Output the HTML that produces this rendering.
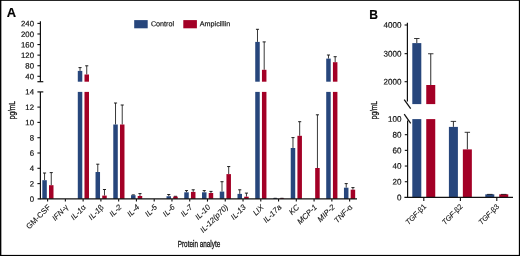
<!DOCTYPE html>
<html><head><meta charset="utf-8"><title>Figure</title>
<style>html,body{margin:0;padding:0;background:#fff;}svg{display:block;}text{stroke:#111;stroke-width:0.18px;}text.r{stroke-width:0.1px;}text.b{stroke-width:0.3px;}</style></head>
<body>
<svg width="520" height="256" viewBox="0 0 520 256" font-family="'Liberation Sans', Arial, sans-serif">
<rect x="0" y="0" width="520" height="256" fill="#fff"/>
<line x1="44.55" y1="173.00" x2="44.55" y2="180.20" stroke="#151515" stroke-width="0.85"/><line x1="43.00" y1="173.00" x2="46.10" y2="173.00" stroke="#151515" stroke-width="0.95"/><rect x="42.30" y="180.20" width="4.5" height="18.70" fill="#27467c"/>
<line x1="51.25" y1="172.60" x2="51.25" y2="185.20" stroke="#151515" stroke-width="0.85"/><line x1="49.70" y1="172.60" x2="52.80" y2="172.60" stroke="#151515" stroke-width="0.95"/><rect x="49.00" y="185.20" width="4.5" height="13.70" fill="#a30026"/>
<line x1="80.04" y1="67.60" x2="80.04" y2="70.90" stroke="#151515" stroke-width="0.85"/><line x1="78.49" y1="67.60" x2="81.59" y2="67.60" stroke="#151515" stroke-width="0.95"/><rect x="77.79" y="70.90" width="4.5" height="10.80" fill="#27467c"/><rect x="77.79" y="91.90" width="4.5" height="107.00" fill="#27467c"/>
<line x1="86.74" y1="65.80" x2="86.74" y2="74.50" stroke="#151515" stroke-width="0.85"/><line x1="85.19" y1="65.80" x2="88.29" y2="65.80" stroke="#151515" stroke-width="0.95"/><rect x="84.49" y="74.50" width="4.5" height="7.20" fill="#a30026"/><rect x="84.49" y="91.90" width="4.5" height="107.00" fill="#a30026"/>
<line x1="97.78" y1="164.20" x2="97.78" y2="172.00" stroke="#151515" stroke-width="0.85"/><line x1="96.23" y1="164.20" x2="99.33" y2="164.20" stroke="#151515" stroke-width="0.95"/><rect x="95.53" y="172.00" width="4.5" height="26.90" fill="#27467c"/>
<line x1="104.48" y1="189.50" x2="104.48" y2="195.60" stroke="#151515" stroke-width="0.85"/><line x1="102.93" y1="189.50" x2="106.03" y2="189.50" stroke="#151515" stroke-width="0.95"/><rect x="102.23" y="195.60" width="4.5" height="3.30" fill="#a30026"/>
<line x1="115.53" y1="103.00" x2="115.53" y2="124.50" stroke="#151515" stroke-width="0.85"/><line x1="113.98" y1="103.00" x2="117.08" y2="103.00" stroke="#151515" stroke-width="0.95"/><rect x="113.28" y="124.50" width="4.5" height="74.40" fill="#27467c"/>
<line x1="122.23" y1="105.00" x2="122.23" y2="124.50" stroke="#151515" stroke-width="0.85"/><line x1="120.68" y1="105.00" x2="123.78" y2="105.00" stroke="#151515" stroke-width="0.95"/><rect x="119.98" y="124.50" width="4.5" height="74.40" fill="#a30026"/>
<line x1="133.28" y1="194.90" x2="133.28" y2="195.20" stroke="#151515" stroke-width="0.85"/><line x1="131.72" y1="194.90" x2="134.83" y2="194.90" stroke="#151515" stroke-width="0.95"/><rect x="131.03" y="195.20" width="4.5" height="3.70" fill="#27467c"/>
<line x1="139.97" y1="193.60" x2="139.97" y2="196.00" stroke="#151515" stroke-width="0.85"/><line x1="138.42" y1="193.60" x2="141.53" y2="193.60" stroke="#151515" stroke-width="0.95"/><rect x="137.72" y="196.00" width="4.5" height="2.90" fill="#a30026"/>
<line x1="168.77" y1="194.50" x2="168.77" y2="196.25" stroke="#151515" stroke-width="0.85"/><line x1="167.22" y1="194.50" x2="170.32" y2="194.50" stroke="#151515" stroke-width="0.95"/><rect x="166.52" y="196.25" width="4.5" height="2.65" fill="#27467c"/>
<line x1="175.47" y1="196.30" x2="175.47" y2="196.60" stroke="#151515" stroke-width="0.85"/><line x1="173.91" y1="196.30" x2="177.02" y2="196.30" stroke="#151515" stroke-width="0.95"/><rect x="173.22" y="196.60" width="4.5" height="2.30" fill="#a30026"/>
<line x1="186.51" y1="190.60" x2="186.51" y2="192.30" stroke="#151515" stroke-width="0.85"/><line x1="184.96" y1="190.60" x2="188.06" y2="190.60" stroke="#151515" stroke-width="0.95"/><rect x="184.26" y="192.30" width="4.5" height="6.60" fill="#27467c"/>
<line x1="193.21" y1="189.80" x2="193.21" y2="191.90" stroke="#151515" stroke-width="0.85"/><line x1="191.66" y1="189.80" x2="194.76" y2="189.80" stroke="#151515" stroke-width="0.95"/><rect x="190.96" y="191.90" width="4.5" height="7.00" fill="#a30026"/>
<line x1="204.26" y1="190.60" x2="204.26" y2="192.30" stroke="#151515" stroke-width="0.85"/><line x1="202.71" y1="190.60" x2="205.81" y2="190.60" stroke="#151515" stroke-width="0.95"/><rect x="202.01" y="192.30" width="4.5" height="6.60" fill="#27467c"/>
<line x1="210.96" y1="191.40" x2="210.96" y2="193.00" stroke="#151515" stroke-width="0.85"/><line x1="209.41" y1="191.40" x2="212.51" y2="191.40" stroke="#151515" stroke-width="0.95"/><rect x="208.71" y="193.00" width="4.5" height="5.90" fill="#a30026"/>
<line x1="222.00" y1="181.70" x2="222.00" y2="191.60" stroke="#151515" stroke-width="0.85"/><line x1="220.45" y1="181.70" x2="223.55" y2="181.70" stroke="#151515" stroke-width="0.95"/><rect x="219.75" y="191.60" width="4.5" height="7.30" fill="#27467c"/>
<line x1="228.70" y1="166.55" x2="228.70" y2="174.10" stroke="#151515" stroke-width="0.85"/><line x1="227.15" y1="166.55" x2="230.25" y2="166.55" stroke="#151515" stroke-width="0.95"/><rect x="226.45" y="174.10" width="4.5" height="24.80" fill="#a30026"/>
<line x1="239.75" y1="189.80" x2="239.75" y2="193.90" stroke="#151515" stroke-width="0.85"/><line x1="238.20" y1="189.80" x2="241.30" y2="189.80" stroke="#151515" stroke-width="0.95"/><rect x="237.50" y="193.90" width="4.5" height="5.00" fill="#27467c"/>
<line x1="246.45" y1="193.10" x2="246.45" y2="196.70" stroke="#151515" stroke-width="0.85"/><line x1="244.90" y1="193.10" x2="248.00" y2="193.10" stroke="#151515" stroke-width="0.95"/><rect x="244.20" y="196.70" width="4.5" height="2.20" fill="#a30026"/>
<line x1="257.49" y1="29.30" x2="257.49" y2="41.90" stroke="#151515" stroke-width="0.85"/><line x1="255.94" y1="29.30" x2="259.04" y2="29.30" stroke="#151515" stroke-width="0.95"/><rect x="255.24" y="41.90" width="4.5" height="39.80" fill="#27467c"/><rect x="255.24" y="91.90" width="4.5" height="107.00" fill="#27467c"/>
<line x1="264.19" y1="41.90" x2="264.19" y2="69.80" stroke="#151515" stroke-width="0.85"/><line x1="262.64" y1="41.90" x2="265.74" y2="41.90" stroke="#151515" stroke-width="0.95"/><rect x="261.94" y="69.80" width="4.5" height="11.90" fill="#a30026"/><rect x="261.94" y="91.90" width="4.5" height="107.00" fill="#a30026"/>
<line x1="275.23" y1="198.30" x2="275.23" y2="198.40" stroke="#151515" stroke-width="0.85"/><line x1="273.68" y1="198.30" x2="276.78" y2="198.30" stroke="#151515" stroke-width="0.95"/><rect x="272.98" y="198.40" width="4.5" height="0.50" fill="#27467c"/>
<line x1="281.94" y1="198.30" x2="281.94" y2="198.40" stroke="#151515" stroke-width="0.85"/><line x1="280.38" y1="198.30" x2="283.49" y2="198.30" stroke="#151515" stroke-width="0.95"/><rect x="279.69" y="198.40" width="4.5" height="0.50" fill="#a30026"/>
<line x1="292.98" y1="137.60" x2="292.98" y2="148.00" stroke="#151515" stroke-width="0.85"/><line x1="291.43" y1="137.60" x2="294.53" y2="137.60" stroke="#151515" stroke-width="0.95"/><rect x="290.73" y="148.00" width="4.5" height="50.90" fill="#27467c"/>
<line x1="299.68" y1="121.70" x2="299.68" y2="135.80" stroke="#151515" stroke-width="0.85"/><line x1="298.13" y1="121.70" x2="301.23" y2="121.70" stroke="#151515" stroke-width="0.95"/><rect x="297.43" y="135.80" width="4.5" height="63.10" fill="#a30026"/>

<line x1="317.43" y1="114.80" x2="317.43" y2="168.00" stroke="#151515" stroke-width="0.85"/><line x1="315.88" y1="114.80" x2="318.98" y2="114.80" stroke="#151515" stroke-width="0.95"/><rect x="315.18" y="168.00" width="4.5" height="30.90" fill="#a30026"/>
<line x1="328.47" y1="55.00" x2="328.47" y2="58.60" stroke="#151515" stroke-width="0.85"/><line x1="326.92" y1="55.00" x2="330.02" y2="55.00" stroke="#151515" stroke-width="0.95"/><rect x="326.22" y="58.60" width="4.5" height="23.10" fill="#27467c"/><rect x="326.22" y="91.90" width="4.5" height="107.00" fill="#27467c"/>
<line x1="335.17" y1="56.70" x2="335.17" y2="62.20" stroke="#151515" stroke-width="0.85"/><line x1="333.62" y1="56.70" x2="336.72" y2="56.70" stroke="#151515" stroke-width="0.95"/><rect x="332.92" y="62.20" width="4.5" height="19.50" fill="#a30026"/><rect x="332.92" y="91.90" width="4.5" height="107.00" fill="#a30026"/>
<line x1="346.21" y1="183.60" x2="346.21" y2="187.70" stroke="#151515" stroke-width="0.85"/><line x1="344.66" y1="183.60" x2="347.76" y2="183.60" stroke="#151515" stroke-width="0.95"/><rect x="343.96" y="187.70" width="4.5" height="11.20" fill="#27467c"/>
<line x1="352.92" y1="187.60" x2="352.92" y2="189.70" stroke="#151515" stroke-width="0.85"/><line x1="351.37" y1="187.60" x2="354.47" y2="187.60" stroke="#151515" stroke-width="0.95"/><rect x="350.67" y="189.70" width="4.5" height="9.20" fill="#a30026"/>
<line x1="40.4" y1="21.3" x2="40.4" y2="81.7" stroke="#111" stroke-width="1.2"/>
<line x1="37.4" y1="81.7" x2="43.3" y2="81.7" stroke="#111" stroke-width="1.2"/>
<line x1="37.4" y1="91.9" x2="43.3" y2="91.9" stroke="#111" stroke-width="1.2"/>
<line x1="40.4" y1="91.9" x2="40.4" y2="199.35" stroke="#111" stroke-width="1.2"/>
<line x1="37.6" y1="198.9" x2="357" y2="198.9" stroke="#111" stroke-width="1.25"/>
<line x1="37.4" y1="23.40" x2="40.4" y2="23.40" stroke="#111" stroke-width="1.1"/>
<text transform="translate(34,26.30) rotate(-0.03)" font-size="7.8" text-anchor="end" fill="#111">240</text>
<line x1="37.4" y1="33.98" x2="40.4" y2="33.98" stroke="#111" stroke-width="1.1"/>
<text transform="translate(34,36.88) rotate(-0.03)" font-size="7.8" text-anchor="end" fill="#111">200</text>
<line x1="37.4" y1="44.56" x2="40.4" y2="44.56" stroke="#111" stroke-width="1.1"/>
<text transform="translate(34,47.46) rotate(-0.03)" font-size="7.8" text-anchor="end" fill="#111">160</text>
<line x1="37.4" y1="55.14" x2="40.4" y2="55.14" stroke="#111" stroke-width="1.1"/>
<text transform="translate(34,58.04) rotate(-0.03)" font-size="7.8" text-anchor="end" fill="#111">120</text>
<line x1="37.4" y1="65.72" x2="40.4" y2="65.72" stroke="#111" stroke-width="1.1"/>
<text transform="translate(34,68.62) rotate(-0.03)" font-size="7.8" text-anchor="end" fill="#111">80</text>
<line x1="37.4" y1="76.30" x2="40.4" y2="76.30" stroke="#111" stroke-width="1.1"/>
<text transform="translate(34,79.20) rotate(-0.03)" font-size="7.8" text-anchor="end" fill="#111">40</text>
<text transform="translate(34,94.60) rotate(-0.03)" font-size="7.8" text-anchor="end" fill="#111">14</text>
<line x1="37.4" y1="107.10" x2="40.4" y2="107.10" stroke="#111" stroke-width="1.1"/>
<text transform="translate(34,109.90) rotate(-0.03)" font-size="7.8" text-anchor="end" fill="#111">12</text>
<line x1="37.4" y1="122.40" x2="40.4" y2="122.40" stroke="#111" stroke-width="1.1"/>
<text transform="translate(34,125.20) rotate(-0.03)" font-size="7.8" text-anchor="end" fill="#111">10</text>
<line x1="37.4" y1="137.70" x2="40.4" y2="137.70" stroke="#111" stroke-width="1.1"/>
<text transform="translate(34,140.50) rotate(-0.03)" font-size="7.8" text-anchor="end" fill="#111">8</text>
<line x1="37.4" y1="153.00" x2="40.4" y2="153.00" stroke="#111" stroke-width="1.1"/>
<text transform="translate(34,155.80) rotate(-0.03)" font-size="7.8" text-anchor="end" fill="#111">6</text>
<line x1="37.4" y1="168.30" x2="40.4" y2="168.30" stroke="#111" stroke-width="1.1"/>
<text transform="translate(34,171.10) rotate(-0.03)" font-size="7.8" text-anchor="end" fill="#111">4</text>
<line x1="37.4" y1="183.60" x2="40.4" y2="183.60" stroke="#111" stroke-width="1.1"/>
<text transform="translate(34,186.40) rotate(-0.03)" font-size="7.8" text-anchor="end" fill="#111">2</text>
<text transform="translate(34,201.70) rotate(-0.03)" font-size="7.8" text-anchor="end" fill="#111">0</text>
<line x1="47.60" y1="198.9" x2="47.60" y2="201.6" stroke="#111" stroke-width="1.1"/>
<text class="r" transform="translate(51.00,207.7) rotate(-45)" font-size="7.8" text-anchor="end" fill="#111">GM-CSF</text>
<line x1="65.37" y1="198.9" x2="65.37" y2="201.6" stroke="#111" stroke-width="1.1"/>
<text class="r" transform="translate(68.77,207.7) rotate(-45)" font-size="7.8" text-anchor="end" fill="#111" font-style="italic">IFN-<tspan font-style="normal">γ</tspan></text>
<line x1="83.13" y1="198.9" x2="83.13" y2="201.6" stroke="#111" stroke-width="1.1"/>
<text class="r" transform="translate(86.53,207.7) rotate(-45)" font-size="7.8" text-anchor="end" fill="#111" font-style="italic">IL-1<tspan font-style="normal">α</tspan></text>
<line x1="100.90" y1="198.9" x2="100.90" y2="201.6" stroke="#111" stroke-width="1.1"/>
<text class="r" transform="translate(104.30,207.7) rotate(-45)" font-size="7.8" text-anchor="end" fill="#111" font-style="italic">IL-1<tspan font-style="normal">β</tspan></text>
<line x1="118.66" y1="198.9" x2="118.66" y2="201.6" stroke="#111" stroke-width="1.1"/>
<text class="r" transform="translate(122.06,207.7) rotate(-45)" font-size="7.8" text-anchor="end" fill="#111" font-style="italic">IL-2</text>
<line x1="136.43" y1="198.9" x2="136.43" y2="201.6" stroke="#111" stroke-width="1.1"/>
<text class="r" transform="translate(139.83,207.7) rotate(-45)" font-size="7.8" text-anchor="end" fill="#111" font-style="italic">IL-4</text>
<line x1="154.20" y1="198.9" x2="154.20" y2="201.6" stroke="#111" stroke-width="1.1"/>
<text class="r" transform="translate(157.60,207.7) rotate(-45)" font-size="7.8" text-anchor="end" fill="#111" font-style="italic">IL-5</text>
<line x1="171.96" y1="198.9" x2="171.96" y2="201.6" stroke="#111" stroke-width="1.1"/>
<text class="r" transform="translate(175.36,207.7) rotate(-45)" font-size="7.8" text-anchor="end" fill="#111" font-style="italic">IL-6</text>
<line x1="189.73" y1="198.9" x2="189.73" y2="201.6" stroke="#111" stroke-width="1.1"/>
<text class="r" transform="translate(193.13,207.7) rotate(-45)" font-size="7.8" text-anchor="end" fill="#111" font-style="italic">IL-7</text>
<line x1="207.49" y1="198.9" x2="207.49" y2="201.6" stroke="#111" stroke-width="1.1"/>
<text class="r" transform="translate(210.89,207.7) rotate(-45)" font-size="7.8" text-anchor="end" fill="#111" font-style="italic">IL-10</text>
<line x1="225.26" y1="198.9" x2="225.26" y2="201.6" stroke="#111" stroke-width="1.1"/>
<text class="r" transform="translate(228.66,207.7) rotate(-45)" font-size="7.8" text-anchor="end" fill="#111" font-style="italic">IL-12(p70)</text>
<line x1="243.03" y1="198.9" x2="243.03" y2="201.6" stroke="#111" stroke-width="1.1"/>
<text class="r" transform="translate(246.43,207.7) rotate(-45)" font-size="7.8" text-anchor="end" fill="#111" font-style="italic">IL-13</text>
<line x1="260.79" y1="198.9" x2="260.79" y2="201.6" stroke="#111" stroke-width="1.1"/>
<text class="r" transform="translate(264.19,207.7) rotate(-45)" font-size="7.8" text-anchor="end" fill="#111" font-style="italic">LIX</text>
<line x1="278.56" y1="198.9" x2="278.56" y2="201.6" stroke="#111" stroke-width="1.1"/>
<text class="r" transform="translate(281.96,207.7) rotate(-45)" font-size="7.8" text-anchor="end" fill="#111" font-style="italic">IL-17a</text>
<line x1="296.32" y1="198.9" x2="296.32" y2="201.6" stroke="#111" stroke-width="1.1"/>
<text class="r" transform="translate(299.72,207.7) rotate(-45)" font-size="7.8" text-anchor="end" fill="#111" font-style="italic">KC</text>
<line x1="314.09" y1="198.9" x2="314.09" y2="201.6" stroke="#111" stroke-width="1.1"/>
<text class="r" transform="translate(317.49,207.7) rotate(-45)" font-size="7.8" text-anchor="end" fill="#111" font-style="italic">MCP-1</text>
<line x1="331.86" y1="198.9" x2="331.86" y2="201.6" stroke="#111" stroke-width="1.1"/>
<text class="r" transform="translate(335.26,207.7) rotate(-45)" font-size="7.8" text-anchor="end" fill="#111" font-style="italic">MIP-2</text>
<line x1="349.62" y1="198.9" x2="349.62" y2="201.6" stroke="#111" stroke-width="1.1"/>
<text class="r" transform="translate(353.02,207.7) rotate(-45)" font-size="7.8" text-anchor="end" fill="#111" font-style="italic">TNF-<tspan font-style="normal">α</tspan></text>
<text class="b" transform="translate(15.0,110.2) rotate(-90) scale(0.74,1)" font-size="8.8" text-anchor="middle" fill="#111">pg/mL</text>
<text class="b" transform="translate(199,246.95) scale(0.718,1)" font-size="8.9" text-anchor="middle" fill="#111">Protein analyte</text>
<text x="6.7" y="16.9" font-size="12.9" font-weight="bold" fill="#000">A</text>
<text x="369.3" y="19.3" font-size="12.1" font-weight="bold" fill="#000">B</text>
<rect x="134.2" y="20.1" width="13.5" height="8.2" fill="#27467c"/>
<text transform="translate(150.9,26.3) rotate(-0.03)" font-size="7.2" fill="#111">Control</text>
<rect x="183.3" y="20.1" width="13.6" height="8.2" fill="#a30026"/>
<text transform="translate(199.8,26.3) rotate(-0.03)" font-size="7.2" fill="#111">Ampicillin</text>
<line x1="416.80" y1="38.50" x2="416.80" y2="43.10" stroke="#222" stroke-width="0.95"/><line x1="414.10" y1="38.50" x2="419.50" y2="38.50" stroke="#222" stroke-width="0.9"/><rect x="412.30" y="43.10" width="9.0" height="61.00" fill="#27467c"/><rect x="412.30" y="119.10" width="9.0" height="78.30" fill="#27467c"/>
<line x1="430.75" y1="53.75" x2="430.75" y2="85.00" stroke="#222" stroke-width="0.95"/><line x1="428.05" y1="53.75" x2="433.45" y2="53.75" stroke="#222" stroke-width="0.9"/><rect x="426.25" y="85.00" width="9.0" height="19.10" fill="#a30026"/><rect x="426.25" y="119.10" width="9.0" height="78.30" fill="#a30026"/>
<line x1="453.40" y1="121.40" x2="453.40" y2="126.90" stroke="#222" stroke-width="0.95"/><line x1="450.70" y1="121.40" x2="456.10" y2="121.40" stroke="#222" stroke-width="0.9"/><rect x="448.90" y="126.90" width="9.0" height="70.50" fill="#27467c"/>
<line x1="467.35" y1="132.30" x2="467.35" y2="149.40" stroke="#222" stroke-width="0.95"/><line x1="464.65" y1="132.30" x2="470.05" y2="132.30" stroke="#222" stroke-width="0.9"/><rect x="462.85" y="149.40" width="9.0" height="48.00" fill="#a30026"/>
<line x1="489.80" y1="194.45" x2="489.80" y2="194.30" stroke="#222" stroke-width="0.95"/><line x1="487.10" y1="194.45" x2="492.50" y2="194.45" stroke="#222" stroke-width="0.9"/><rect x="485.30" y="194.30" width="9.0" height="3.10" fill="#27467c"/><line x1="487.10" y1="194.45" x2="492.50" y2="194.45" stroke="#222" stroke-width="0.7"/>
<line x1="503.75" y1="194.45" x2="503.75" y2="194.30" stroke="#222" stroke-width="0.95"/><line x1="501.05" y1="194.45" x2="506.45" y2="194.45" stroke="#222" stroke-width="0.9"/><rect x="499.25" y="194.30" width="9.0" height="3.10" fill="#a30026"/><line x1="501.05" y1="194.45" x2="506.45" y2="194.45" stroke="#222" stroke-width="0.7"/>
<line x1="407.4" y1="22.8" x2="407.4" y2="101.5" stroke="#111" stroke-width="1.2"/>
<line x1="404.2" y1="99.6" x2="410.7" y2="108.7" stroke="#111" stroke-width="1.25"/>
<line x1="404.2" y1="114.2" x2="410.7" y2="123.4" stroke="#111" stroke-width="1.25"/>
<line x1="407.59999999999997" y1="120.5" x2="407.59999999999997" y2="197.85" stroke="#111" stroke-width="1.2"/>
<line x1="404.4" y1="197.4" x2="513" y2="197.4" stroke="#111" stroke-width="1.1"/>
<line x1="404.6" y1="25.00" x2="407.4" y2="25.00" stroke="#111" stroke-width="1.1"/>
<text transform="translate(401.5,27.80) rotate(-0.03)" font-size="8.05" text-anchor="end" fill="#111">4000</text>
<line x1="404.6" y1="53.65" x2="407.4" y2="53.65" stroke="#111" stroke-width="1.1"/>
<text transform="translate(401.5,56.45) rotate(-0.03)" font-size="8.05" text-anchor="end" fill="#111">3000</text>
<line x1="404.6" y1="81.70" x2="407.4" y2="81.70" stroke="#111" stroke-width="1.1"/>
<text transform="translate(401.5,84.50) rotate(-0.03)" font-size="8.05" text-anchor="end" fill="#111">2000</text>
<text transform="translate(401.5,121.80) rotate(-0.03)" font-size="8.05" text-anchor="end" fill="#111">100</text>
<line x1="404.8" y1="134.68" x2="407.4" y2="134.68" stroke="#111" stroke-width="1.1"/>
<text transform="translate(401.5,137.48) rotate(-0.03)" font-size="8.05" text-anchor="end" fill="#111">80</text>
<line x1="404.8" y1="150.36" x2="407.4" y2="150.36" stroke="#111" stroke-width="1.1"/>
<text transform="translate(401.5,153.16) rotate(-0.03)" font-size="8.05" text-anchor="end" fill="#111">60</text>
<line x1="404.8" y1="166.04" x2="407.4" y2="166.04" stroke="#111" stroke-width="1.1"/>
<text transform="translate(401.5,168.84) rotate(-0.03)" font-size="8.05" text-anchor="end" fill="#111">40</text>
<line x1="404.8" y1="181.72" x2="407.4" y2="181.72" stroke="#111" stroke-width="1.1"/>
<text transform="translate(401.5,184.52) rotate(-0.03)" font-size="8.05" text-anchor="end" fill="#111">20</text>
<text transform="translate(401.5,200.20) rotate(-0.03)" font-size="8.05" text-anchor="end" fill="#111">0</text>
<line x1="423.80" y1="197.4" x2="423.80" y2="201.0" stroke="#111" stroke-width="1.1"/>
<text class="r" transform="translate(426.70,207.0) rotate(-45)" font-size="7.45" text-anchor="end" fill="#111"><tspan font-style="italic">TGF-</tspan>β1</text>
<line x1="460.40" y1="197.4" x2="460.40" y2="201.0" stroke="#111" stroke-width="1.1"/>
<text class="r" transform="translate(463.30,207.0) rotate(-45)" font-size="7.45" text-anchor="end" fill="#111"><tspan font-style="italic">TGF-</tspan>β2</text>
<line x1="496.80" y1="197.4" x2="496.80" y2="201.0" stroke="#111" stroke-width="1.1"/>
<text class="r" transform="translate(499.70,207.0) rotate(-45)" font-size="7.45" text-anchor="end" fill="#111"><tspan font-style="italic">TGF-</tspan>β3</text>
<text class="b" transform="translate(377.0,110.2) rotate(-90) scale(0.74,1)" font-size="8.8" text-anchor="middle" fill="#111">pg/mL</text>
<rect x="0" y="0" width="520" height="0.85" fill="#000"/><rect x="0" y="0" width="1.35" height="256" fill="#000"/><rect x="518.85" y="0" width="1.15" height="256" fill="#000"/><rect x="0" y="254.9" width="520" height="1.1" fill="#000"/>
</svg>
</body></html>
